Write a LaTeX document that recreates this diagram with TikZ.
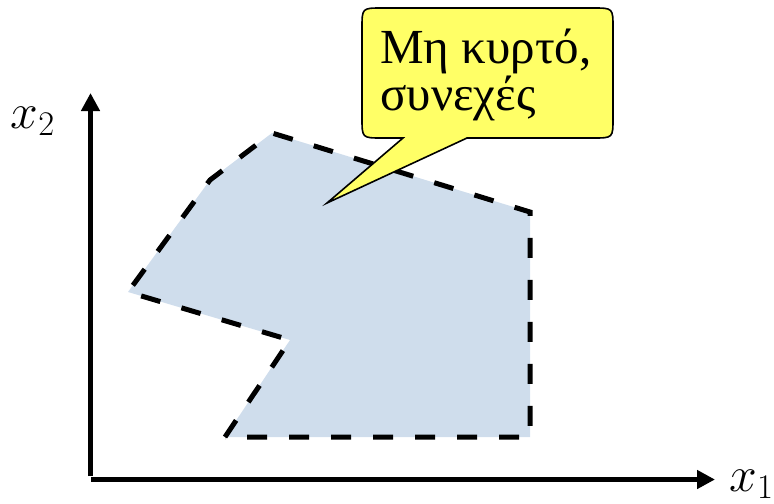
\documentclass[tikz,border=0pt]{standalone}
\usepackage{fontspec}
\setmainfont{Liberation Serif}
\usetikzlibrary{arrows.meta}
\definecolor{regionblue}{RGB}{207,221,236}
\definecolor{noteyellow}{RGB}{255,255,102}

\begin{document}
\begin{tikzpicture}[
  x=0.5pt, y=-0.5pt,
  axis/.style={line width=2.5pt, -{Triangle[length=9pt,width=9pt]}},
  region/.style={fill=regionblue, draw=black, line width=2.5pt, dash pattern=on 10pt off 11pt},
  bubble/.style={fill=noteyellow, draw=black, line width=0.8pt},
  lbl/.style={font=\fontsize{25}{30}\selectfont},
]
  \useasboundingbox (0,0) rectangle (774,503);
  % axes
  \coordinate (yfoot) at (90.5,476);
  \coordinate (ytip) at (90.5,93);
  \coordinate (xfoot) at (91,479.5);
  \coordinate (xtip) at (715,479.5);
  \draw[axis] (yfoot) -- (ytip);
  \draw[axis] (xfoot) -- (xtip);
  \node[lbl, anchor=base] (xtwo) at (33,128) {$x_2$};
  \node[lbl, anchor=base west, inner sep=0pt] (xone) at (729,491) {$x_1$};
  % region
  \draw[region] (225,437) -- (290,340) -- (128,292) -- (210,180) -- (272,133) -- (530,212) -- (530,437) -- cycle;
  % callout
  \draw[bubble] (403,138) -- (327,203) -- (467,138) -- (593,138) .. controls (613,138) .. (613,118) -- (613,28) .. controls (613,8) .. (593,8) -- (382,8) .. controls (362,8) .. (362,28) -- (362,118) .. controls (362,138) .. (382,138) -- cycle;
  \node[anchor=base west, inner sep=0pt, align=left, font=\fontsize{24.5}{23.5}\selectfont] (note) at (380,110) {Μη κυρτό,\\συνεχές};
\end{tikzpicture}
\end{document}
